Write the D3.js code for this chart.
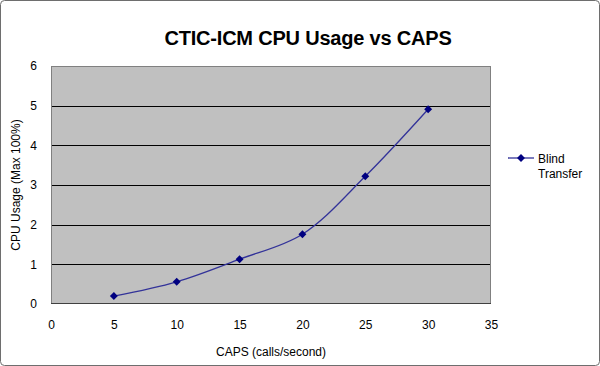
<!DOCTYPE html>
<html><head><meta charset="utf-8">
<script src="https://cdn.jsdelivr.net/npm/d3@7"></script>
<style>body{margin:0;background:#fff}svg{display:block}text{font-family:"Liberation Sans",Arial,sans-serif}</style>
</head><body><svg id="c" width="600" height="366"></svg>
<script>
const caps = [5, 10, 15, 20, 25, 30];
const cpuUsage = [0.2, 0.56, 1.13, 1.76, 3.22, 4.91];
const xTicks = [0, 5, 10, 15, 20, 25, 30, 35];
const yTicks = [0, 1, 2, 3, 4, 5, 6];
const seriesName = ["Blind", "Transfer"];

const svg = d3.select("#c");
svg.append("rect").attr("x",0.5).attr("y",0.5).attr("width",599).attr("height",365)
  .attr("rx",4).attr("fill","#fff").attr("stroke","#6e6e6e");

const L=51,R=491,T=66,B=304;
const x=d3.scaleLinear().domain([0,35]).range([L,R]);
const y=d3.scaleLinear().domain([0,6]).range([B,T]);

svg.append("rect").attr("x",L).attr("y",T).attr("width",R-L).attr("height",B-T).attr("fill","#c0c0c0");
svg.append("g").selectAll("line").data(yTicks.filter(d=>d>0&&d<6)).join("line")
  .attr("x1",L).attr("x2",R).attr("y1",d=>Math.round(y(d))+0.5).attr("y2",d=>Math.round(y(d))+0.5)
  .attr("stroke","#000");
svg.append("rect").attr("x",L+0.5).attr("y",T+0.5).attr("width",R-L-1).attr("height",B-T-1)
  .attr("fill","none").attr("stroke","#808080");
svg.append("line").attr("x1",L).attr("x2",R).attr("y1",B-0.5).attr("y2",B-0.5).attr("stroke","#404040");

const yAxis=d3.axisLeft(y).tickValues(yTicks).tickFormat(d3.format("d")).tickSize(0).tickPadding(14);
svg.append("g").attr("transform",`translate(${L},0)`).call(yAxis)
  .call(g=>g.select(".domain").remove())
  .selectAll("text").attr("font-size","12px").attr("fill","#000").attr("font-family","Liberation Sans, Arial, sans-serif");
const xAxis=d3.axisBottom(x).tickValues(xTicks).tickFormat(d3.format("d")).tickSize(0).tickPadding(16);
svg.append("g").attr("transform",`translate(0,${B})`).call(xAxis)
  .call(g=>g.select(".domain").remove())
  .selectAll("text").attr("font-size","12px").attr("fill","#000").attr("font-family","Liberation Sans, Arial, sans-serif");

const line=d3.line().x((d,i)=>x(caps[i])).y(d=>y(d)).curve(d3.curveCatmullRom.alpha(0.5));
svg.append("path").attr("d",line(cpuUsage)).attr("fill","none").attr("stroke","#333399").attr("stroke-width",1.3);
const diamond=d3.symbol().type(d3.symbolDiamond2).size(40);
svg.append("g").selectAll("path").data(cpuUsage).join("path")
  .attr("transform",(d,i)=>`translate(${x(caps[i])},${y(d)})`).attr("d",diamond).attr("fill","#000080");

svg.append("text").attr("x",308).attr("y",45).attr("text-anchor","middle")
  .attr("font-size","20px").attr("font-weight","bold").attr("letter-spacing","-0.2")
  .text("CTIC-ICM CPU Usage vs CAPS");
svg.append("text").attr("transform","translate(20,185) rotate(-90)").attr("text-anchor","middle")
  .attr("font-size","12px").text("CPU Usage (Max 100%)");
svg.append("text").attr("x",271).attr("y",356).attr("text-anchor","middle")
  .attr("font-size","12px").text("CAPS (calls/second)");

// legend
svg.append("line").attr("x1",508).attr("x2",534).attr("y1",158).attr("y2",158).attr("stroke","#333399").attr("stroke-width",1.3);
svg.append("path").attr("transform","translate(521,158)").attr("d",diamond).attr("fill","#000080");
svg.append("text").attr("x",538).attr("y",163).attr("font-size","12px")
  .selectAll("tspan").data(seriesName).join("tspan").attr("x",538).attr("dy",(d,i)=>i?15:0).text(d=>d);
</script></body></html>
